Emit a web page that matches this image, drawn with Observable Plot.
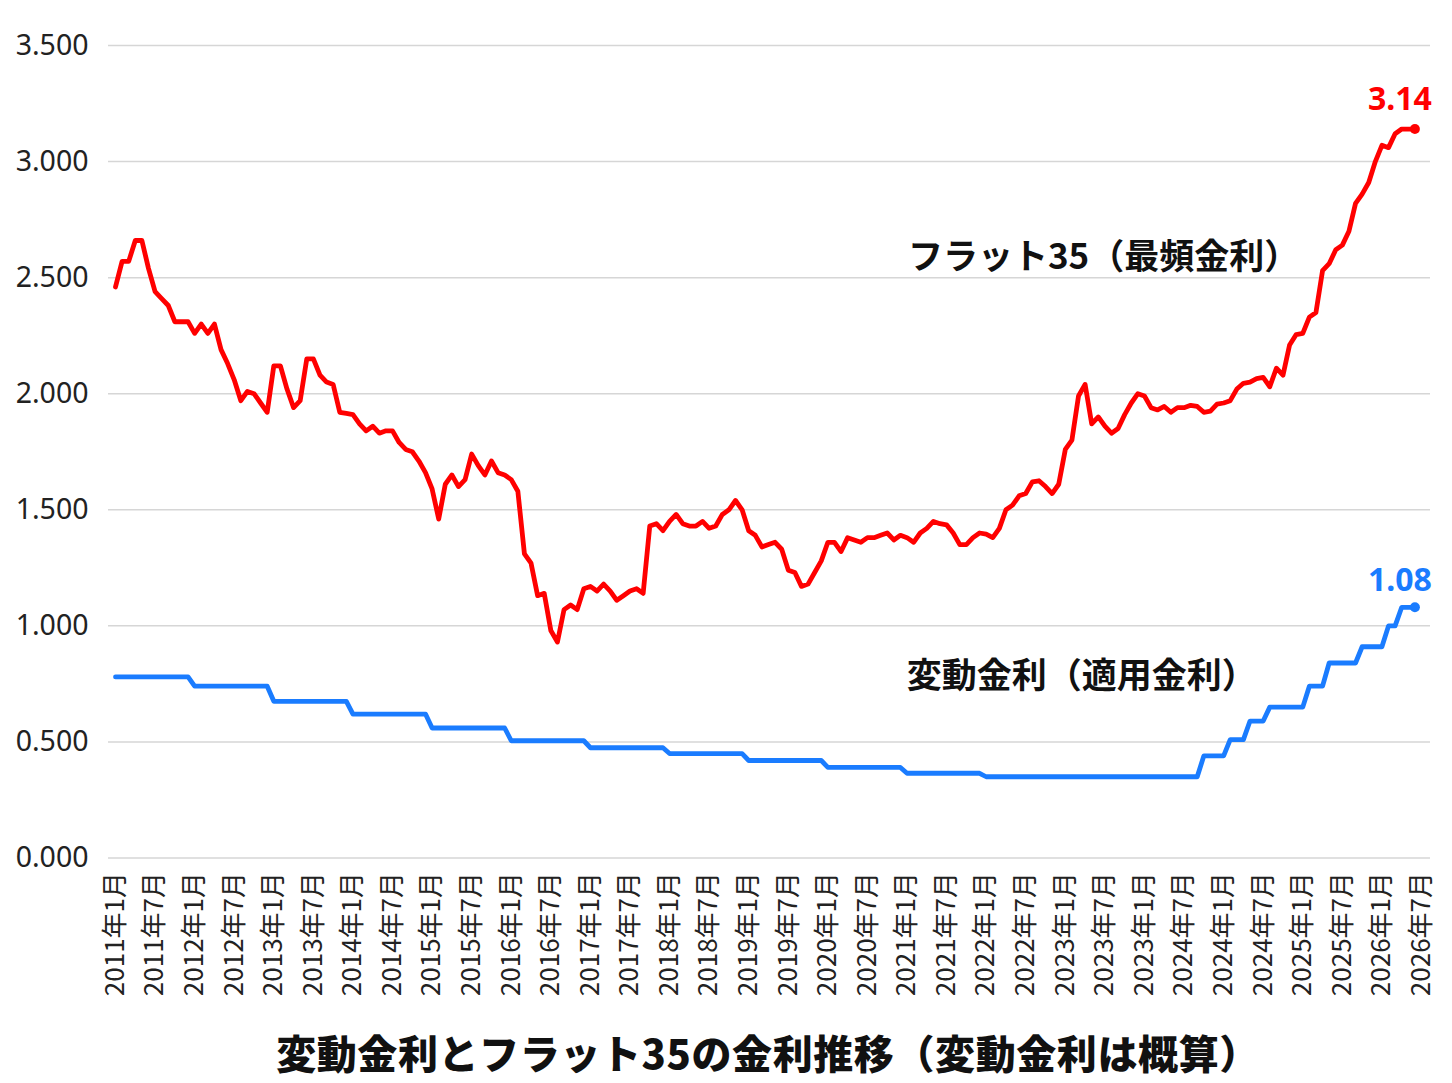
<!DOCTYPE html>
<html><head><meta charset="utf-8">
<script src="https://cdn.jsdelivr.net/npm/d3@7"></script>
<script src="https://cdn.jsdelivr.net/npm/@observablehq/plot@0.6"></script>
<style>
body{margin:0;background:#fff;font-family:"Noto Sans","Noto Sans CJK JP",sans-serif;}
#title{font-family:"Noto Sans CJK JP",sans-serif;font-weight:900;font-size:40px;letter-spacing:0.6px;text-align:center;height:70px;line-height:70px;padding-top:7px;padding-left:84px;color:#111;white-space:nowrap;}
</style></head><body>
<div id="chart"></div>
<div id="title">変動金利とフラット35の金利推移（変動金利は概算）</div>
<script>
const xLabels = ["2011年1月","2011年7月","2012年1月","2012年7月","2013年1月","2013年7月","2014年1月","2014年7月","2015年1月","2015年7月","2016年1月","2016年7月","2017年1月","2017年7月","2018年1月","2018年7月","2019年1月","2019年7月","2020年1月","2020年7月","2021年1月","2021年7月","2022年1月","2022年7月","2023年1月","2023年7月","2023年1月","2024年7月","2024年1月","2024年7月","2025年1月","2025年7月","2026年1月","2026年7月"];

const flat35 = [2.46,2.57,2.57,2.66,2.66,2.54,2.44,2.41,2.38,2.31,2.31,2.31,2.26,2.30,2.26,2.30,2.19,2.13,2.06,1.97,
2.01,2.00,1.96,1.92,2.12,2.12,2.02,1.94,1.97,2.15,2.15,2.08,2.05,2.04,1.92,1.915,1.91,1.87,1.84,1.86,
1.83,1.84,1.84,1.79,1.76,1.75,1.71,1.66,1.59,1.46,1.61,1.65,1.60,1.63,1.74,1.69,1.65,1.71,1.66,1.65,
1.63,1.58,1.31,1.27,1.13,1.14,0.98,0.93,1.07,1.09,1.07,1.16,1.17,1.15,1.18,1.15,1.11,1.13,1.15,1.16,
1.14,1.43,1.44,1.41,1.45,1.48,1.44,1.43,1.43,1.45,1.42,1.43,1.48,1.50,1.54,1.50,1.41,1.39,1.34,1.35,
1.36,1.33,1.24,1.23,1.17,1.18,1.23,1.28,1.36,1.36,1.32,1.38,1.37,1.36,1.38,1.38,1.39,1.40,1.37,1.39,
1.38,1.36,1.40,1.42,1.45,1.44,1.435,1.40,1.35,1.35,1.38,1.40,1.395,1.38,1.42,1.50,1.52,1.56,1.57,1.62,
1.625,1.60,1.57,1.61,1.76,1.80,1.99,2.04,1.87,1.90,1.86,1.83,1.85,1.91,1.96,2.00,1.99,1.94,1.93,1.945,
1.92,1.94,1.94,1.95,1.945,1.92,1.925,1.955,1.96,1.97,2.02,2.045,2.05,2.065,2.07,2.03,2.11,2.08,2.21,2.255,
2.26,2.33,2.35,2.53,2.56,2.62,2.64,2.70,2.82,2.86,2.91,3.00,3.07,3.06,3.12,3.14,3.14,3.14];

const hendo = [0.78,0.78,0.78,0.78,0.78,0.78,0.78,0.78,0.78,0.78,0.78,0.78,
0.74,0.74,0.74,0.74,0.74,0.74,0.74,0.74,0.74,0.74,0.74,0.74,
0.675,0.675,0.675,0.675,0.675,0.675,0.675,0.675,0.675,0.675,0.675,0.675,
0.62,0.62,0.62,0.62,0.62,0.62,0.62,0.62,0.62,0.62,0.62,0.62,
0.56,0.56,0.56,0.56,0.56,0.56,0.56,0.56,0.56,0.56,0.56,0.56,
0.505,0.505,0.505,0.505,0.505,0.505,0.505,0.505,0.505,0.505,0.505,0.505,
0.475,0.475,0.475,0.475,0.475,0.475,0.475,0.475,0.475,0.475,0.475,0.475,
0.45,0.45,0.45,0.45,0.45,0.45,0.45,0.45,0.45,0.45,0.45,0.45,
0.42,0.42,0.42,0.42,0.42,0.42,0.42,0.42,0.42,0.42,0.42,0.42,
0.39,0.39,0.39,0.39,0.39,0.39,0.39,0.39,0.39,0.39,0.39,0.39,
0.365,0.365,0.365,0.365,0.365,0.365,0.365,0.365,0.365,0.365,0.365,0.365,
0.35,0.35,0.35,0.35,0.35,0.35,0.35,0.35,0.35,0.35,0.35,0.35,0.35,0.35,0.35,0.35,0.35,
0.35,0.35,0.35,0.35,0.35,0.35,0.35,0.35,0.35,0.35,0.35,0.35,0.35,0.35,0.35,0.35,
0.44,0.44,0.44,0.44,0.51,0.51,0.51,0.59,0.59,0.59,0.65,0.65,0.65,0.65,0.65,0.65,
0.74,0.74,0.74,0.84,0.84,0.84,0.84,0.84,0.91,0.91,0.91,0.91,1.00,1.00,1.08,1.08,1.08];

const seriesNames = ["フラット35（最頻金利）","変動金利（適用金利）"];
const seriesColors = ["#ff0000","#1a7cff"];
const annotX = [149.8, 146.5];
const annotY = [2.585, 0.782];
const yTicks = [0,0.5,1,1.5,2,2.5,3,3.5];

const redRows = flat35.map((v,i)=>({m:i, v}));
const blueRows = hendo.map((v,i)=>({m:i, v}));
const redLast = [redRows[redRows.length-1]];
const blueLast = [blueRows[blueRows.length-1]];
const annots = seriesNames.map((t,i)=>({t, x:annotX[i], y:annotY[i]}));
const xTicks = xLabels.map((d,i)=>i*6);

const chart = Plot.plot({
  width:1452, height:1010,
  marginLeft:108, marginRight:22, marginTop:45, marginBottom:152.5,
  style:{fontFamily:'"Noto Sans","Noto Sans CJK JP",sans-serif', background:"#fff", color:"#222"},
  x:{domain:[0,(xLabels.length-1)*6], insetLeft:7, insetRight:9},
  y:{domain:[0,3.5]},
  marks:[
    Plot.gridY(yTicks, {stroke:"#d6d6d6", strokeOpacity:1, strokeWidth:1.5}),
    Plot.axisY(yTicks, {tickSize:0, tickPadding:20, tickFormat:d3.format(".3f"), fontSize:28.5, label:null, fill:"#222"}),
    Plot.axisX(xTicks, {tickSize:0, tickPadding:14, tickRotate:-90, tickFormat:d=>xLabels[d/6], fontSize:26, label:null, fill:"#222", fontFamily:'"Noto Sans CJK JP",sans-serif'}),
    Plot.line(redRows, {x:"m", y:"v", stroke:seriesColors[0], strokeWidth:4.8, strokeLinejoin:"round"}),
    Plot.line(blueRows, {x:"m", y:"v", stroke:seriesColors[1], strokeWidth:4.8, strokeLinejoin:"round"}),
    Plot.dot(redLast, {x:"m", y:"v", fill:seriesColors[0], r:5}),
    Plot.dot(blueLast, {x:"m", y:"v", fill:seriesColors[1], r:5}),
    Plot.text(redLast, {x:"m", y:"v", text:d=>d.v.toFixed(2), fill:seriesColors[0], dx:-15, dy:-29, fontSize:32, fontWeight:"bold"}),
    Plot.text(blueLast, {x:"m", y:"v", text:d=>d.v.toFixed(2), fill:seriesColors[1], dx:-15, dy:-27, fontSize:32, fontWeight:"bold"}),
    Plot.text(annots, {x:"x", y:"y", text:"t", fontSize:35, fontWeight:"bold", fill:"#111", fontFamily:'"Noto Sans CJK JP",sans-serif'})
  ]
});
document.getElementById("chart").appendChild(chart);
</script>
</body></html>
